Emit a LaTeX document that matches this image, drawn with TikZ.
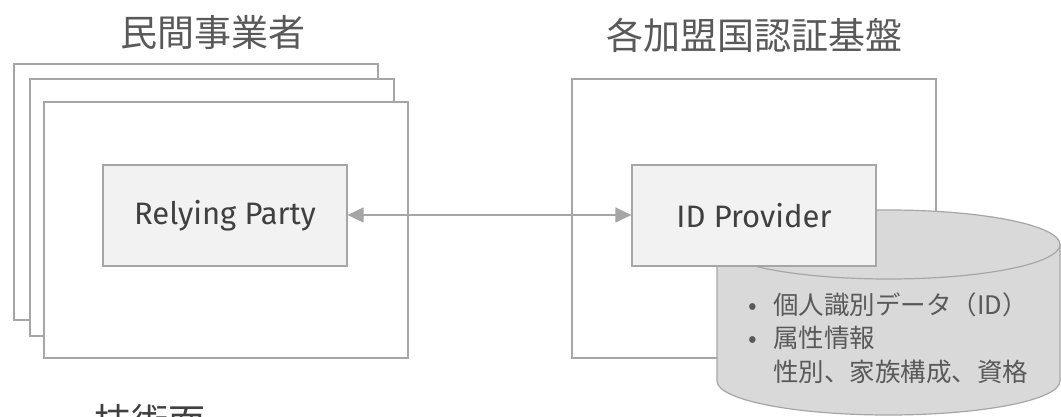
\documentclass[tikz,border=0pt]{standalone}
\usepackage{fontspec}
\setmainfont{Fira Sans}
\newfontfamily\cjk{Noto Sans CJK JP}
\usetikzlibrary{arrows.meta}
\definecolor{frame}{HTML}{A6A6A6}
\definecolor{boxfill}{HTML}{F2F2F2}
\definecolor{dbfill}{HTML}{D9D9D9}
\definecolor{ink}{HTML}{404040}
\definecolor{soft}{HTML}{595959}
\tikzset{
  panel/.style={draw=frame, line width=1.2pt, fill=white},
  actor/.style={draw=frame, line width=1.2pt, fill=boxfill, text=ink,
    minimum width=244pt, minimum height=101pt, inner sep=0pt,
    font=\fontsize{31}{34}\selectfont},
  heading/.style={text=soft, font=\cjk\fontsize{37}{40}\selectfont, inner sep=0pt},
  link/.style={draw=frame, line width=1.2pt,
    {Triangle[length=16pt,width=15pt]}-{Triangle[length=16pt,width=15pt]}},
}
\begin{document}
\begin{tikzpicture}[x=1pt,y=-1pt]
\useasboundingbox (0,0) rectangle (1061,417);
\fill[white] (0,0) rectangle (1061,417);

% stacked frames of the relying parties
\draw[panel] (14,64) rectangle (378,320);
\draw[panel] (30,79) rectangle (394,336);
\draw[panel] (44,102) rectangle (408,358);

% frame of the identity provider
\draw[panel] (572,79) rectangle (936,358);

% attribute store (cylinder); y axis points down, so angles run the other way
\draw[draw=frame, line width=1.2pt, fill=dbfill]
  (717,244.5) -- (717,381) arc[start angle=180, end angle=0, x radius=171.5, y radius=34]
  -- (1060,244.5) arc[start angle=0, end angle=-180, x radius=171.5, y radius=34.5] -- cycle;
\draw[draw=frame, line width=1.2pt]
  (717,244.5) arc[start angle=180, end angle=0, x radius=171.5, y radius=34.5];

\node[actor] (rp) at (225,215.5) {Relying Party};
\node[actor] (idp) at (754,215.5) {ID Provider};
\draw[link] (rp.east |- 0,215) -- (idp.west |- 0,215);

\node[heading] (h1) at (213,32) {民間事業者};
\node[heading] (h2) at (754,35) {各加盟国認証基盤};
\node[heading, text=ink, anchor=north west] (h3) at (94,404) {技術面};

\node[anchor=north west, text=soft, inner sep=0pt, align=left,
  font=\cjk\fontsize{25.5}{33.5}\selectfont] (attrs) at (748,292)
  {\makebox[25pt][l]{•}個人識別データ（ID）\\
   \makebox[25pt][l]{•}属性情報\\
   \makebox[25pt][l]{}性別、家族構成、資格};
\end{tikzpicture}
\end{document}
